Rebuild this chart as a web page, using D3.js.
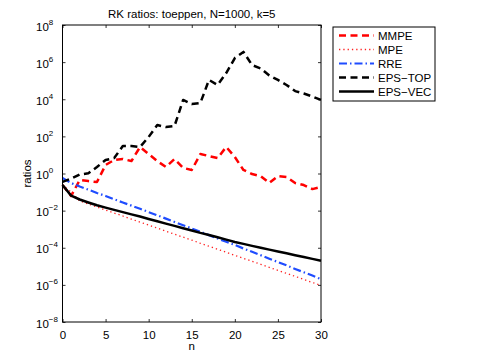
<!DOCTYPE html>
<html>
<head>
<meta charset="utf-8">
<script src="https://cdn.jsdelivr.net/npm/d3@7"></script>
<style>
  body { margin: 0; background: #fff; }
  svg text { font-family: "Liberation Sans", Arial, Helvetica, sans-serif; fill: #000; }
</style>
</head>
<body>
<div id="chart"></div>
<script>
const nValues = [0, 1, 2, 3, 4, 5, 6, 7, 8, 9, 10, 11, 12, 13, 14, 15, 16, 17, 18, 19, 20, 21, 22, 23, 24, 25, 26, 27, 28, 29, 30];

const mmpe = [-0.62, -1.21, -0.35, -0.41, -0.46, 0.46, 0.73, 0.78, 0.67, 1.43, 1.05, 0.67, 0.35, 0.78, 0.30, 0.19,
    1.05, 0.94, 0.83, 1.43, 0.89, 0.19, -0.03, -0.14, -0.51, -0.14, -0.19, -0.51, -0.62, -0.84, -0.73];
const mpe = [-0.62, -1.00, -1.48, -1.64, -1.81, -1.97, -2.13, -2.29, -2.46, -2.62, -2.78, -2.94, -3.11, -3.27, -3.43, -3.59,
    -3.76, -3.92, -4.08, -4.24, -4.41, -4.57, -4.73, -4.89, -5.06, -5.22, -5.38, -5.54, -5.71, -5.87, -6.03];
const rre = [-0.24, -0.51, -0.70, -0.87, -1.05, -1.21, -1.39, -1.56, -1.73, -1.90, -2.08, -2.25, -2.43, -2.61, -2.79, -2.96,
    -3.14, -3.32, -3.50, -3.68, -3.85, -4.04, -4.22, -4.40, -4.59, -4.77, -4.95, -5.14, -5.32, -5.50, -5.69];
const epsTop = [-0.45, -0.27, -0.05, 0.01, 0.35, 0.73, 0.83, 1.48, 1.48, 1.43, 1.97, 2.61, 2.50, 2.56, 3.96, 3.74,
    3.80, 5.04, 4.77, 5.41, 6.22, 6.55, 5.84, 5.66, 5.28, 5.04, 4.77, 4.44, 4.31, 4.15, 3.96];
const epsVec = [-0.62, -1.19, -1.40, -1.56, -1.71, -1.84, -1.96, -2.08, -2.20, -2.32, -2.45, -2.57, -2.70, -2.82, -2.95, -3.07,
    -3.20, -3.31, -3.43, -3.56, -3.69, -3.79, -3.90, -4.00, -4.10, -4.20, -4.30, -4.40, -4.50, -4.60, -4.70];

const xTicks = [0, 5, 10, 15, 20, 25, 30];
const yTickExponents = [-8, -6, -4, -2, 0, 2, 4, 6, 8];

const series = [
    { name: 'MMPE', values: mmpe, color: '#ff0000', width: 2.5, dash: '7,4.5' },
    { name: 'MPE', values: mpe, color: '#ff2020', width: 1.3, dash: '1.3,3' },
    { name: 'RRE', values: rre, color: '#1f4cff', width: 2.2, dash: '8,3,1.5,3' },
    { name: 'EPS\u2212TOP', values: epsTop, color: '#000000', width: 2.5, dash: '7,4.5' },
    { name: 'EPS\u2212VEC', values: epsVec, color: '#000000', width: 2.5, dash: null }
];

const chart = {
    totalWidth: 482,
    totalHeight: 363,
    left: 62.5,
    right: 321,
    top: 25,
    bottom: 322
};

const svg = d3.select('#chart')
    .append('svg')
    .attr('width', chart.totalWidth)
    .attr('height', chart.totalHeight);

const xScale = d3.scaleLinear().domain([0, 30]).range([chart.left, chart.right]);
const yScale = d3.scaleLog().domain([1e-8, 1e8]).range([chart.bottom, chart.top]);

// Lines
const plot = svg.append('g').classed('lines', true);
const line = d3.line()
    .x((d, i) => xScale(nValues[i]))
    .y(d => yScale(Math.pow(10, d)));

series.forEach(s => {
    plot.append('path')
        .attr('d', line(s.values))
        .attr('fill', 'none')
        .attr('stroke', s.color)
        .attr('stroke-width', s.width)
        .attr('stroke-dasharray', s.dash)
        .attr('stroke-linejoin', 'round');
});

// Axes (MATLAB style box, ticks inside)
const yTickVals = yTickExponents.map(e => Math.pow(10, e));

svg.append('g')
    .attr('transform', `translate(0, ${chart.bottom})`)
    .call(d3.axisBottom(xScale).tickValues(xTicks).tickSize(-3).tickPadding(9).tickSizeOuter(0))
    .call(g => g.selectAll('text').attr('font-size', 11.5));

svg.append('g')
    .attr('transform', `translate(0, ${chart.top})`)
    .call(d3.axisTop(xScale).tickValues(xTicks).tickSize(-3).tickFormat('').tickSizeOuter(0));

const yLeft = svg.append('g')
    .attr('transform', `translate(${chart.left}, 0)`)
    .call(d3.axisLeft(yScale).tickValues(yTickVals).tickSize(-3).tickFormat('').tickSizeOuter(0));

yLeft.selectAll('.tick').each(function(d) {
    const e = Math.round(Math.log10(d));
    const t = d3.select(this).append('text')
        .attr('x', -26.5)
        .attr('y', 5)
        .attr('text-anchor', 'start')
        .attr('font-size', 11.5);
    t.append('tspan').text('10');
    t.append('tspan')
        .attr('dy', -6)
        .attr('font-size', 8)
        .text(e < 0 ? '\u2212' + Math.abs(e) : e);
});

svg.append('g')
    .attr('transform', `translate(${chart.right}, 0)`)
    .call(d3.axisRight(yScale).tickValues(yTickVals).tickSize(-3).tickFormat('').tickSizeOuter(0));

svg.selectAll('.domain').remove();
svg.selectAll('.tick line').attr('stroke', '#000').attr('stroke-width', 0.8);

svg.append('rect')
    .attr('x', chart.left)
    .attr('y', chart.top)
    .attr('width', chart.right - chart.left)
    .attr('height', chart.bottom - chart.top)
    .attr('fill', 'none')
    .attr('stroke', '#000')
    .attr('stroke-width', 1);

// Labels
svg.append('text')
    .attr('x', (chart.left + chart.right) / 2)
    .attr('y', 18)
    .attr('text-anchor', 'middle')
    .attr('font-size', 11.5)
    .text('RK ratios: toeppen, N=1000, k=5');

svg.append('text')
    .attr('x', (chart.left + chart.right) / 2)
    .attr('y', 350)
    .attr('text-anchor', 'middle')
    .attr('font-size', 11.5)
    .text('n');

svg.append('text')
    .attr('transform', `translate(31, ${(chart.top + chart.bottom) / 2}) rotate(-90)`)
    .attr('text-anchor', 'middle')
    .attr('font-size', 11.5)
    .text('ratios');

// Legend
const legend = svg.append('g').classed('legend', true);
legend.append('rect')
    .attr('x', 333)
    .attr('y', 27)
    .attr('width', 102)
    .attr('height', 74)
    .attr('fill', '#fff')
    .attr('stroke', '#000')
    .attr('stroke-width', 1);

series.forEach((s, i) => {
    const y = 35.5 + i * 14;
    legend.append('line')
        .attr('x1', 339)
        .attr('x2', 374)
        .attr('y1', y)
        .attr('y2', y)
        .attr('stroke', s.color)
        .attr('stroke-width', s.width)
        .attr('stroke-dasharray', s.dash);
    legend.append('text')
        .attr('x', 378)
        .attr('y', y + 4)
        .attr('font-size', 11.5)
        .text(s.name);
});
</script>
</body>
</html>
